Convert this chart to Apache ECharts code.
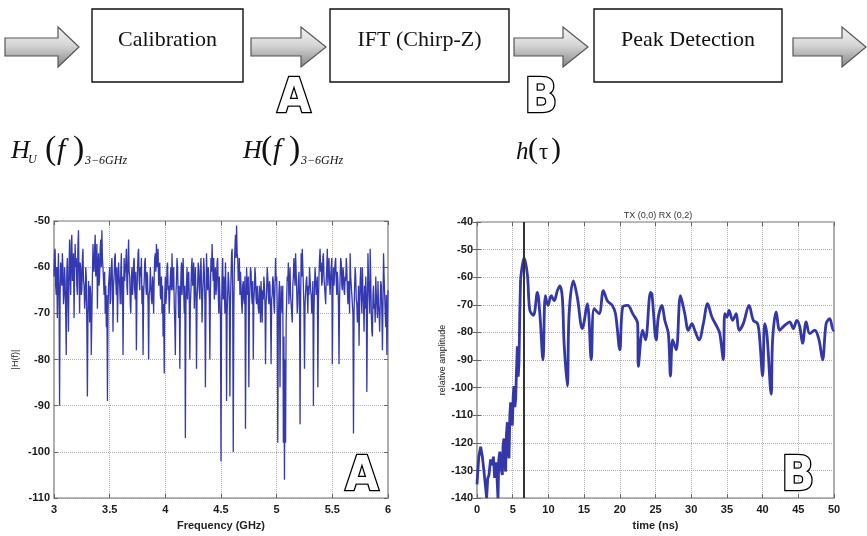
<!DOCTYPE html>
<html>
<head>
<meta charset="utf-8">
<script src="https://cdn.jsdelivr.net/npm/echarts@6/dist/echarts.min.js"></script>
<style>html,body{margin:0;padding:0;background:#fff}#c{width:867px;height:536px}</style>
</head>
<body>
<div id="c"></div>
<script>
// ---------- DATA ----------
// Left panel (A): |H(f)| over 3-6 GHz, sampled every 0.005 GHz (20 values per 0.1 GHz row)
const freqStart = 3.0;
const freqStep = 0.005;
const magA = [
  -62,-57,-56,-64,-66,-60,-71,-63,-57,-65,-90,-66,-59,-61,-64,-57,-60,-68,-66,-60,
  -63,-70,-79,-61,-58,-67,-74,-60,-54,-62,-66,-55,-53,-63,-62,-57,-71,-62,-55,-60,
  -58,-64,-66,-55,-52,-62,-70,-59,-60,-66,-65,-58,-56,-63,-64,-69,-67,-60,-62,-73,
  -88,-70,-63,-66,-72,-64,-66,-79,-79,-62,-55,-60,-61,-56,-53,-62,-60,-55,-69,-60,
  -57,-64,-62,-56,-54,-60,-52,-58,-60,-63,-66,-61,-70,-64,-73,-66,-89,-70,-64,-62,
  -60,-68,-67,-60,-58,-63,-74,-64,-62,-58,-57,-63,-66,-60,-72,-65,-59,-62,-64,-68,
  -61,-57,-68,-62,-79,-66,-58,-63,-63,-59,-56,-64,-66,-58,-54,-61,-62,-68,-70,-63,
  -60,-66,-64,-59,-58,-65,-67,-61,-78,-66,-61,-57,-56,-63,-65,-60,-62,-58,-68,-64,
  -79,-66,-63,-59,-58,-64,-66,-61,-62,-68,-80,-66,-65,-60,-60,-67,-68,-62,-64,-70,
  -62,-58,-57,-61,-55,-59,-60,-56,-64,-61,-59,-66,-67,-62,-70,-64,-75,-68,-83,-66,
  -62,-68,-66,-60,-59,-65,-64,-70,-70,-62,-60,-65,-57,-63,-65,-60,-68,-72,-79,-66,
  -63,-58,-60,-66,-71,-64,-82,-68,-62,-59,-66,-61,-58,-65,-70,-64,-97,-68,-64,-60,
  -67,-62,-61,-66,-80,-68,-65,-60,-58,-64,-63,-59,-69,-64,-60,-66,-82,-67,-64,-59,
  -60,-65,-67,-61,-58,-64,-72,-66,-63,-58,-61,-67,-86,-68,-57,-62,-65,-60,-62,-67,
  -80,-65,-58,-61,-55,-60,-63,-58,-67,-62,-60,-66,-64,-59,-58,-65,-70,-62,-66,-71,
  -102,-70,-62,-58,-67,-62,-64,-70,-59,-65,-89,-70,-66,-61,-63,-67,-88,-68,-62,-57,
  -56,-66,-100,-70,-60,-56,-53,-58,-51,-57,-58,-63,-62,-58,-66,-61,-64,-68,-70,-64,
  -63,-67,-68,-62,-95,-70,-60,-65,-66,-62,-86,-68,-64,-60,-61,-66,-68,-63,-80,-67,
  -65,-60,-62,-67,-68,-64,-64,-69,-70,-64,-66,-72,-63,-67,-72,-65,-67,-62,-64,-68,
  -81,-68,-65,-60,-62,-66,-68,-63,-64,-70,-81,-67,-66,-62,-63,-68,-70,-64,-58,-63,
  -62,-68,-98,-72,-66,-63,-86,-70,-64,-68,-70,-64,-98,-75,-106,-80,-98,-72,-67,-62,
  -63,-59,-68,-64,-60,-66,-66,-70,-72,-64,-62,-58,-58,-64,-57,-61,-65,-70,-68,-63,
  -61,-66,-94,-68,-57,-62,-56,-60,-64,-69,-82,-68,-68,-63,-62,-66,-70,-64,-66,-60,
  -60,-65,-66,-70,-68,-63,-90,-70,-64,-60,-60,-66,-66,-62,-86,-68,-62,-58,-56,-61,
  -59,-64,-63,-58,-57,-62,-62,-66,-68,-63,-60,-56,-64,-60,-58,-63,-66,-62,-62,-58,
  -81,-66,-60,-64,-64,-59,-58,-63,-66,-61,-63,-68,-81,-67,-62,-58,-59,-64,-65,-60,
  -61,-65,-66,-62,-63,-58,-60,-65,-68,-63,-64,-70,-57,-62,-62,-66,-66,-70,-96,-70,
  -64,-60,-62,-67,-68,-72,-70,-64,-77,-68,-63,-60,-66,-70,-60,-65,-68,-74,-64,-69,
  -62,-66,-87,-70,-57,-63,-66,-70,-56,-62,-70,-74,-75,-66,-64,-69,-68,-72,-62,-66,
  -66,-71,-63,-68,-70,-74,-68,-63,-64,-70,-78,-68,-57,-62,-62,-70,-73,-66,-79,-72,
  -65
];

// Right panel (B): impulse response h(tau); early noisy rise (0-6.1 ns) and later decay
const timeRise = [0, 0.25, 0.51, 0.75, 0.98, 1.2, 1.35, 1.5, 1.68, 1.9, 2.15, 2.3, 2.47, 2.7, 2.94, 3.05, 3.2, 3.35, 3.55, 3.65,
  3.78, 3.9, 4.01, 4.12, 4.25, 4.36, 4.48, 4.6, 4.71, 4.83, 4.95, 5.07, 5.18, 5.3, 5.42, 5.53, 5.65, 5.77, 5.88, 6.0, 6.1];
const ampRise = [-135, -125, -121.4, -125, -130.4, -136, -140, -133, -131.6, -126, -128, -125, -132.7, -127, -140, -126, -123.2, -129, -131.6, -121,
  -118.4, -127, -130.4, -117, -112.5, -121, -125.6, -110, -105.3, -112, -113.7, -103, -99.4, -107, -104, -94, -85, -96, -91, -72, -61];
const timeDecay = [6.1, 6.58, 7.05, 7.4, 7.9, 8.45, 8.8, 9.24, 9.57, 9.94, 10.4, 10.8, 11.25, 11.6, 11.95, 12.2, 12.65, 12.9, 13.5, 14.05,
  14.75, 15.45, 16.0, 16.4, 17.1, 17.7, 18.25, 18.95, 19.4, 20.0, 20.4, 21.1, 21.8, 22.5, 22.6, 23.2, 23.6, 24.3, 24.5, 25.1,
  25.4, 25.9, 26.3, 26.8, 27.1, 27.4, 27.9, 28.5, 29.1, 29.6, 30.1, 30.5, 31.1, 31.7, 32.3, 32.9, 33.6, 34.0, 34.5, 34.7,
  35.0, 35.3, 35.8, 36.3, 36.7, 37.3, 38.1, 38.7, 39.3, 39.6, 40.0, 40.3, 40.6, 41.2, 41.4, 41.9, 42.4, 42.9, 43.4, 43.8,
  44.3, 44.8, 45.2, 45.6, 46.1, 46.6, 47.3, 47.9, 48.4, 48.9, 49.4, 49.9, 50.0];
const ampDecay = [-61, -53, -59, -72, -73.8, -65.5, -73.2, -89.9, -66.7, -70.2, -66.7, -68.5, -64.9, -63.1, -67.3, -84, -99.4, -73.2, -61.3, -67.3,
  -78.6, -69.6, -89.9, -71.4, -73.2, -64.9, -68.5, -70.2, -73.2, -86.3, -70.8, -70.2, -73.2, -76.8, -92.3, -79.2, -82.7, -65.5, -66.1, -82.7,
  -74.4, -70.2, -75.6, -80.4, -95.8, -82.7, -86.3, -66.7, -73.2, -79.2, -76.8, -79.2, -82.7, -76.8, -69.6, -74.4, -77.9, -80.4, -89.9, -73.2,
  -74.4, -72, -75.6, -73.2, -79.2, -76.8, -70.2, -75.6, -76.8, -82.7, -95.8, -76.8, -80.4, -102.4, -82.7, -72.6, -79.2, -77.9, -76.8, -76.2,
  -78.6, -75.6, -77.9, -83.9, -76.2, -80.4, -79.2, -82.7, -89.9, -76.8, -75, -79.2, -79];
const peakTime = 6.6;

const xTicksA = {min: 3, max: 6, interval: 0.5};
const yTicksA = {min: -110, max: -50, interval: 10};
const xTicksB = {min: 0, max: 50, interval: 5};
const yTicksB = {min: -140, max: -40, interval: 10};

// ---------- CHART ----------
const chart = echarts.init(document.getElementById('c'), null, {renderer: 'canvas'});
const seriesA = magA.map((v, i) => [+(freqStart + i * freqStep).toFixed(3), v]);
const seriesRise = timeRise.map((t, i) => [t, ampRise[i]]);
const seriesDecay = timeDecay.map((t, i) => [t, ampDecay[i]]);

const labelStyle = {color: '#1a1a1a', fontSize: 11, fontFamily: 'Liberation Sans, Arial, sans-serif', fontWeight: 'bold'};
const gridLine = {show: true, lineStyle: {color: '#b0b0b0', type: 'dotted', width: 1}};
function mainX(gi, t, name, gap) {
  return {type: 'value', gridIndex: gi, min: t.min, max: t.max, interval: t.interval, position: 'bottom',
    name: name, nameLocation: 'middle', nameGap: gap,
    nameTextStyle: {color: '#222', fontSize: 11, fontWeight: 'bold', fontFamily: 'Liberation Sans, Arial'},
    axisLine: {show: false}, axisTick: {show: true, inside: true, length: 4, lineStyle: {color: '#666'}},
    axisLabel: Object.assign({margin: 6, showMinLabel: true, showMaxLabel: true}, labelStyle), splitLine: gridLine};
}
function mainY(gi, t, name, gap) {
  return {type: 'value', gridIndex: gi, min: t.min, max: t.max, interval: t.interval, position: 'left',
    name: name, nameLocation: 'middle', nameGap: gap, nameRotate: 90,
    nameTextStyle: {color: '#222', fontSize: 9, fontFamily: 'Liberation Sans, Arial'},
    axisLine: {show: false}, axisTick: {show: true, inside: true, length: 4, lineStyle: {color: '#666'}},
    axisLabel: Object.assign({margin: 4, showMinLabel: true, showMaxLabel: true}, labelStyle), splitLine: gridLine};
}
function sideAxis(kind, gi, t) {
  return {type: 'value', gridIndex: gi, min: t.min, max: t.max, interval: t.interval,
    position: kind === 'x' ? 'top' : 'right',
    axisLine: {show: false}, axisTick: {show: true, inside: true, length: 4, lineStyle: {color: '#666'}},
    axisLabel: {show: false}, splitLine: {show: false}};
}

function arrow(x0, xh, xt) {
  return {type: 'polygon', silent: true,
    shape: {points: [[x0, 38], [xh, 38], [xh, 27], [xt, 47], [xh, 67], [xh, 56], [x0, 56]]},
    style: {fill: new echarts.graphic.LinearGradient(0, 0, 0, 1, [
      {offset: 0, color: '#f4f4f4'}, {offset: 0.45, color: '#d6d6d6'}, {offset: 1, color: '#858585'}]),
      stroke: '#555', lineWidth: 1.2}};
}
function box(x, w, label) {
  return [
    {type: 'rect', silent: true, shape: {x: x, y: 9, width: w, height: 73}, style: {fill: '#fff', stroke: '#111', lineWidth: 1.4}},
    {type: 'text', silent: true, x: x + w / 2, y: 40, style: {text: label, align: 'center', verticalAlign: 'middle',
      font: '22px "Liberation Serif", "Times New Roman", serif', fill: '#111'}}
  ];
}
function tok(text, x, y, size, italic) {
  return {type: 'text', silent: true, x: x, y: y, style: {text: text, align: 'left', verticalAlign: 'middle',
    font: (italic ? 'italic ' : '') + size + 'px "Liberation Serif", "Times New Roman", serif', fill: '#111'}};
}
function outlined(text, x, y, size) {
  return {type: 'text', silent: true, x: x, y: y, z: 100, style: {text: text, align: 'center', verticalAlign: 'middle',
    font: 'bold ' + size + 'px "Liberation Sans Narrow", "DejaVu Sans Condensed", "Liberation Sans", sans-serif',
    fill: '#fff', stroke: '#000', lineWidth: 2.6}};
}

const graphics = [].concat(
  [arrow(5, 58, 79), arrow(251, 301, 326), arrow(514, 563, 588), arrow(793, 842, 866)],
  box(92, 151, 'Calibration'), box(330, 179, 'IFT (Chirp-Z)'), box(594, 188, 'Peak Detection'),
  [outlined('A', 294, 100, 48), outlined('B', 541, 100, 48)],
  [tok('H', 11, 151, 26, true), tok('U', 28, 160, 12, true), tok('(', 45, 150, 34, false), tok('f', 57, 151, 30, true),
   tok(')', 73, 150, 34, false), tok('3\u22126GHz', 85, 161, 12, true)],
  [tok('H', 243, 151, 26, true), tok('(', 261, 150, 34, false), tok('f', 273, 151, 30, true),
   tok(')', 289, 150, 34, false), tok('3\u22126GHz', 301, 161, 12, true)],
  [tok('h', 516, 152, 25, true), tok('(', 528, 150, 30, false), tok('\u03c4', 539, 153, 23, false), tok(')', 551, 150, 30, false)],
  [outlined('A', 362, 478, 48), outlined('B', 798, 478, 48)]
);

const lineB = {color: '#3337a8', width: 2.8};
chart.setOption({
  animation: false,
  backgroundColor: '#fff',
  title: {text: 'TX (0,0) RX (0,2)', left: 653, top: 206, textAlign: 'center',
    textStyle: {fontSize: 9, fontWeight: 'normal', color: '#333', fontFamily: 'Liberation Sans, Arial'}},
  grid: [
    {left: 54, top: 221, width: 334, height: 280, show: true, borderColor: '#777', borderWidth: 1.2, backgroundColor: '#fff'},
    {left: 477, top: 222, width: 357, height: 280, show: true, borderColor: '#777', borderWidth: 1.2, backgroundColor: '#fff'}
  ],
  xAxis: [mainX(0, xTicksA, 'Frequency (GHz)', 21), mainX(1, xTicksB, 'time (ns)', 18), sideAxis('x', 0, xTicksA), sideAxis('x', 1, xTicksB)],
  yAxis: [mainY(0, yTicksA, '|H(f)|', 34), mainY(1, yTicksB, 'relative amplitude', 30), sideAxis('y', 0, yTicksA), sideAxis('y', 1, yTicksB)],
  series: [
    {type: 'line', xAxisIndex: 0, yAxisIndex: 0, data: seriesA, showSymbol: false, symbol: 'none', sampling: null,
      lineStyle: {color: '#3539b0', width: 1.3}},
    {type: 'line', xAxisIndex: 1, yAxisIndex: 1, data: seriesRise, showSymbol: false, symbol: 'none',
      lineStyle: lineB, clip: true},
    {type: 'line', xAxisIndex: 1, yAxisIndex: 1, data: seriesDecay, showSymbol: false, symbol: 'none',
      smooth: 0.35, lineStyle: lineB, clip: true,
      markLine: {silent: true, symbol: 'none', label: {show: false},
        lineStyle: {color: '#333', width: 2, type: 'solid'}, data: [{xAxis: peakTime}]}}
  ],
  graphic: graphics
});
</script>
</body>
</html>
